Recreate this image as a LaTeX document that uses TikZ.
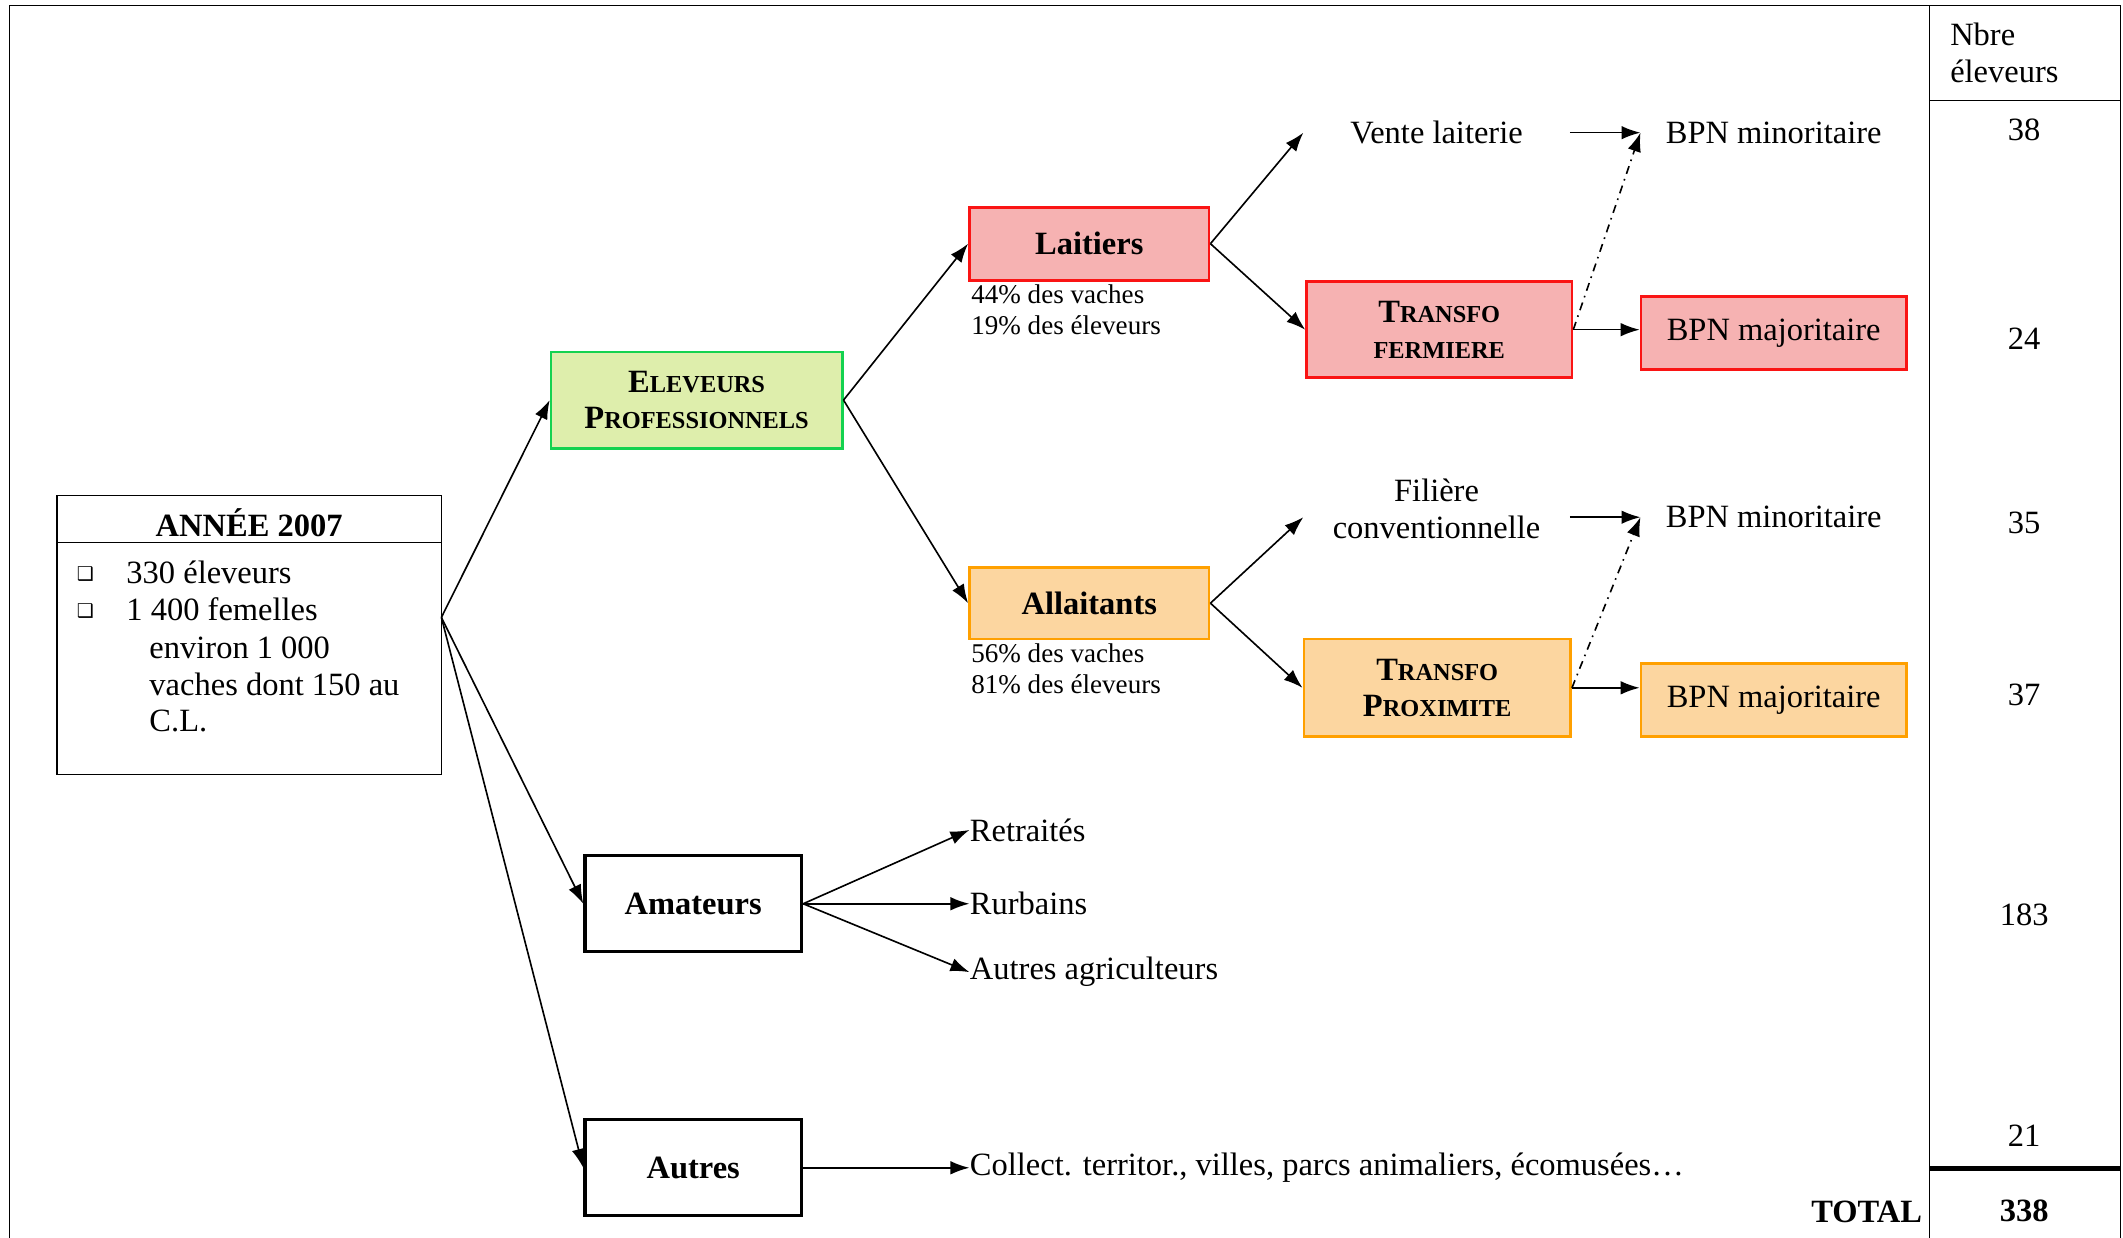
\documentclass[tikz,border=0pt]{standalone}
\usepackage{fontspec}
\setmainfont{Liberation Serif}
\newfontfamily\dingfont{DejaVu Sans}
\usepackage{tikz}
\usetikzlibrary{arrows.meta,positioning}
\definecolor{rougebord}{RGB}{250,20,20}
\definecolor{rougefond}{RGB}{246,178,178}
\definecolor{orangebord}{RGB}{255,160,0}
\definecolor{orangefond}{RGB}{252,214,160}
\definecolor{vertbord}{RGB}{20,210,80}
\definecolor{vertfond}{RGB}{222,238,172}
\newcommand{\taille}{\fontsize{12}{13.5}\selectfont}
\tikzstyle{boite}=[draw,inner sep=0pt,align=center,font=\taille\bfseries]
\tikzstyle{rouge}=[draw=rougebord,fill=rougefond,line width=1pt]
\tikzstyle{orange}=[draw=orangebord,fill=orangefond,line width=1pt]
\tikzstyle{vert}=[draw=vertbord,fill=vertfond,line width=1pt]
\tikzstyle{noir}=[line width=1.2pt]
\tikzstyle{petit}=[font=\fontsize{10}{11.5}\selectfont,align=left,inner sep=1pt]
\tikzstyle{sortie}=[minimum width=98pt,align=center,inner sep=0pt]
\tikzstyle{fleche}=[-{Latex[length=7pt,width=5pt]},line width=0.6pt]
\tikzstyle{tiret}=[fleche,dash dot]
\newcommand{\petitcap}[2]{#1{\fontsize{9}{10}\selectfont#2}}
\newcommand{\puce}{{\dingfont\fontsize{7}{8}\selectfont ❑}}

\begin{document}
\begin{tikzpicture}[x=0.5pt,y=-0.5pt,font=\taille]
\useasboundingbox (0,0) rectangle (1568,914);
% cadre et colonne de droite
\draw[line width=0.6pt] (7,914) -- (7,4) -- (1566,4) -- (1566,914);
\draw[line width=0.5pt] (1425,4) -- (1425,914);
\draw[line width=0.5pt] (1425,74) -- (1566,74);
\draw[line width=1.5pt] (1425,863) -- (1566,863);
\node[anchor=west,align=left,inner sep=0pt] (nbre) at (1440,39) {Nbre\\éleveurs};
\foreach \n/\y in {38/96,24/250,35/386,37/513,183/676,21/839}
    \node (nb\n) at (1495,\y) {\n};
\node[anchor=east,fill=white,font=\taille\bfseries,inner sep=2pt] (total) at (1424,895) {TOTAL};
\node[font=\taille\bfseries] (nbtotal) at (1495,894) {338};

% annee 2007
\node[draw,line width=0.5pt,minimum width=142pt,minimum height=103pt] (annee) at (184,469) {};
\draw[line width=0.5pt] ([yshift=-17.5pt]annee.north west) -- ([yshift=-17.5pt]annee.north east);
\node[font=\taille\bfseries] (titre) at (184,386) {ANNÉE 2007};
\node (puce1) at (63,424) {\puce};
\node (puce2) at (63,451) {\puce};
\node[anchor=west,inner sep=0pt] (ligne1) at (93,423) {330 éleveurs};
\node[anchor=west,inner sep=0pt] (ligne2) at (93,450) {1 400 femelles};
\node[anchor=north west,align=left,inner sep=0pt] (ligne3) at (110,470) {environ 1 000\\vaches dont 150 au\\C.L.};
\coordinate (depart) at (326,456);

% categories
\node[boite,vert,minimum width=107.5pt,minimum height=35.5pt] (eleveurs) at (514.5,295.5)
    {\petitcap{E}{LEVEURS}\\\petitcap{P}{ROFESSIONNELS}};
\node[boite,noir,minimum width=80pt,minimum height=35.5pt] (amateurs) at (512,667.5) {Amateurs};
\node[boite,noir,minimum width=80pt,minimum height=35.5pt] (autres) at (512,862.5) {Autres};
\node[boite,rouge,minimum width=88.5pt,minimum height=27pt] (laitiers) at (804.5,180) {Laitiers};
\node[boite,orange,minimum width=88.5pt,minimum height=26.5pt] (allaitants) at (804.5,445.5) {Allaitants};
\node[petit,anchor=north west] (laitpct) at (laitiers.south west) {44\% des vaches\\19\% des éleveurs};
\node[petit,anchor=north west] (allpct) at (allaitants.south west) {56\% des vaches\\81\% des éleveurs};

% debouches
\node[sortie] (vente) at (1061,98) {Vente laiterie};
\node[sortie] (bpnminL) at (1310,98) {BPN minoritaire};
\node[boite,rouge,minimum width=98pt,minimum height=35.5pt] (transfoF) at (1063,243.5)
    {\petitcap{T}{RANSFO}\\\petitcap{}{FERMIERE}};
\node[boite,rouge,minimum width=98pt,minimum height=27pt,font=\taille] (bpnmajL) at (1310,246) {BPN majoritaire};
\node[sortie] (filiere) at (1061,376) {Filière\\conventionnelle};
\node[sortie] (bpnminA) at (1310,382) {BPN minoritaire};
\node[boite,orange,minimum width=98.5pt,minimum height=36pt] (transfoP) at (1061.5,508)
    {\petitcap{T}{RANSFO}\\\petitcap{P}{ROXIMITE}};
\node[boite,orange,minimum width=98pt,minimum height=27pt,font=\taille] (bpnmajA) at (1310,517) {BPN majoritaire};
\node[anchor=west,inner sep=0pt] (retraites) at (716,613) {Retraités};
\node[anchor=west,inner sep=0pt] (rurbains) at (716,667.5) {Rurbains};
\node[anchor=west,inner sep=0pt] (agri) at (716,718) {Autres agriculteurs};
\node[anchor=west,inner sep=0pt] (collect) at (716,862.5) {Collect. territor., villes, parcs animaliers, écomusées…};

% fleches
\draw[fleche] (depart) -- (eleveurs.west);
\draw[fleche] (depart) -- (amateurs.west);
\draw[fleche] (depart) -- (autres.west);
\draw[fleche] (eleveurs.east) -- (laitiers.west);
\draw[fleche] (eleveurs.east) -- (allaitants.west);
\draw[fleche] (laitiers.east) -- (vente.west);
\draw[fleche] (laitiers.east) -- (transfoF.west);
\draw[fleche] (vente.east) -- (bpnminL.west);
\draw[fleche] (transfoF.east) -- (transfoF.east -| bpnmajL.west);
\draw[tiret] (transfoF.east) -- (bpnminL.west);
\draw[fleche] (allaitants.east) -- (filiere.west |- bpnminA.west);
\draw[fleche] (allaitants.east) -- (transfoP.west);
\draw[fleche] (filiere.east |- bpnminA.west) -- (bpnminA.west);
\draw[fleche] (transfoP.east) -- (transfoP.east -| bpnmajA.west);
\draw[tiret] (transfoP.east) -- (bpnminA.west);
\draw[fleche] (amateurs.east) -- (retraites.west);
\draw[fleche] (amateurs.east) -- (rurbains.west);
\draw[fleche] (amateurs.east) -- (agri.west);
\draw[fleche] (autres.east) -- (collect.west);
\end{tikzpicture}
\end{document}
